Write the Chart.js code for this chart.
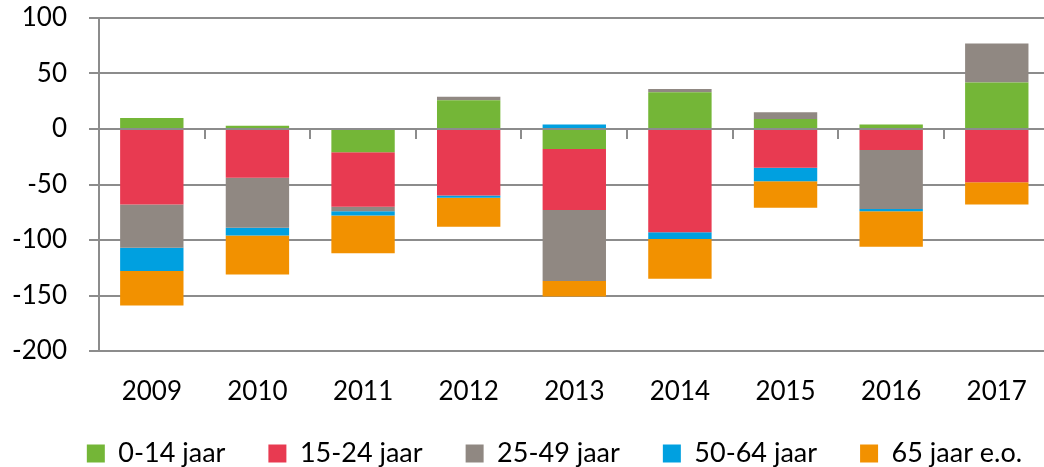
<!DOCTYPE html>
<html>
<head>
<meta charset="utf-8">
<script src="https://cdn.jsdelivr.net/npm/chart.js@4/dist/chart.umd.min.js"></script>
<style>
    html, body { margin: 0; padding: 0; background: #fff; overflow: hidden; }
    #wrap { position: relative; width: 1052px; height: 467px; }
</style>
</head>
<body>
<div id="wrap"><canvas id="chart"></canvas></div>
<script>
/* ===== DATA ===== */
const years = ['2009', '2010', '2011', '2012', '2013', '2014', '2015', '2016', '2017'];
const age0to14  = [10,   3, -21,  26, -18,  33,   9,   4,  42];
const age15to24 = [-68, -44, -49, -60, -55, -93, -35, -19, -48];
const age25to49 = [-39, -45,  -4,   3, -64,   3,   6, -53,  35];
const age50to64 = [-21,  -7,  -4,  -2,   4,  -6, -12,  -2,   0];
const age65plus = [-31, -35, -34, -26, -14, -36, -24, -32, -20];
const yTicks = [-200, -150, -100, -50, 0, 50, 100];

const gridColor = '#8c8c8c';
const font = { family: 'Lato', size: 26 };

// nudge the legend so it sits where the original one does
const legendShift = {
    id: 'legendShift',
    afterLayout(chart) {
        const lg = chart.legend;
        if (!lg) return;
        lg.left += 29; lg.right += 29;
        lg.top -= 10;
    }
};

function ds(label, data, color) {
    return {
        label,
        data,
        backgroundColor: color,
        borderWidth: 0,
        barPercentage: 0.6,
        categoryPercentage: 1
    };
}

new Chart(document.getElementById('chart'), {
    type: 'bar',
    data: {
        labels: years,
        datasets: [
            ds('0-14 jaar', age0to14, '#74b637'),
            ds('15-24 jaar', age15to24, '#e83a51'),
            ds('25-49 jaar', age25to49, '#908882'),
            ds('50-64 jaar', age50to64, '#00a0e0'),
            ds('65 jaar e.o.', age65plus, '#f29100')
        ]
    },
    plugins: [legendShift],
    options: {
        responsive: true,
        maintainAspectRatio: false,
        animation: false,
        layout: { padding: { top: 18, left: 0, right: 1, bottom: 0 } },
        scales: {
            x: {
                stacked: true,
                grid: { display: false, drawTicks: false },
                border: { display: false },
                ticks: { font, color: '#000', padding: 25 },
                afterFit(s) { s.height = 56; }
            },
            xZero: {
                type: 'category',
                axis: 'x',
                position: { y: 0 },
                z: 1,
                grid: { offset: true, drawOnChartArea: false, drawTicks: true, tickLength: 9, color: gridColor, lineWidth: 2 },
                border: { display: true, color: gridColor, width: 2 },
                ticks: { display: false },
                afterFit(s) { s.height = 0; }
            },
            y: {
                stacked: true,
                min: -200,
                max: 100,
                afterBuildTicks(s) { s.ticks = yTicks.map(v => ({ value: v })); },
                grid: { color: gridColor, lineWidth: 2, tickLength: 10 },
                border: { display: true, color: gridColor, width: 2 },
                ticks: { font, color: '#000', padding: 22 },
                afterFit(s) {
                    s.width = 99;
                    s.paddingTop = 0;
                    s.paddingBottom = 0;
                }
            }
        },
        plugins: {
            legend: {
                position: 'bottom',
                maxHeight: 60,
                labels: {
                    font: { family: 'Lato', size: 27 },
                    color: '#000',
                    boxWidth: 18,
                    boxHeight: 18,
                    padding: 43
                }
            },
            tooltip: { enabled: false }
        }
    }
});
</script>
</body>
</html>
